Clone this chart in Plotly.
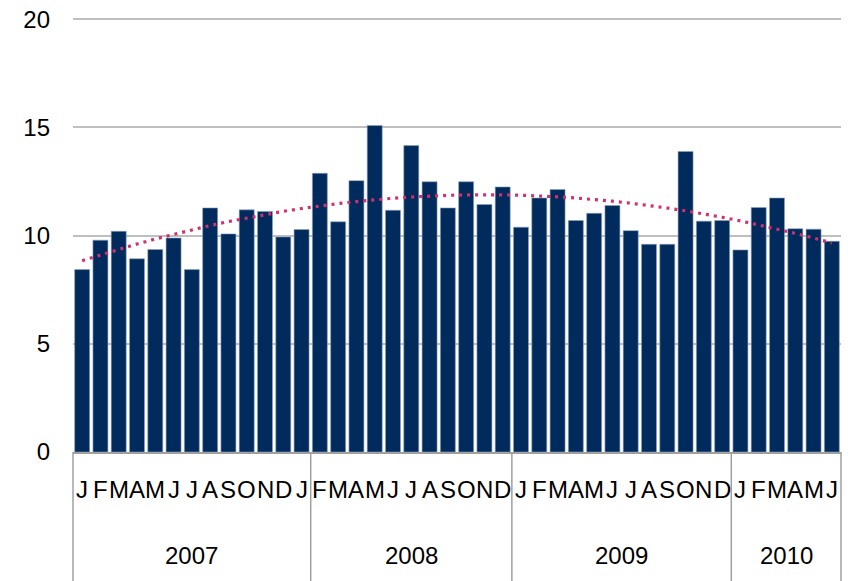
import numpy as np
import plotly.graph_objects as go

# ---- data ----
months = ["J", "F", "M", "A", "M", "J", "J", "A", "S", "O", "N", "D", "J",
          "F", "M", "A", "M", "J", "J", "A", "S", "O", "N", "D",
          "J", "F", "M", "A", "M", "J", "J", "A", "S", "O", "N", "D",
          "J", "F", "M", "A", "M", "J"]
values = [8.43, 9.79, 10.20, 8.93, 9.36, 9.89, 8.43, 11.28, 10.08, 11.19, 11.12, 9.94, 10.28,
          12.88, 10.64, 12.54, 15.09, 11.17, 14.16, 12.49, 11.28, 12.49, 11.44, 12.25,
          10.39, 11.74, 12.13, 10.70, 11.03, 11.39, 10.23, 9.60, 9.60, 13.89, 10.67, 10.70,
          9.34, 11.30, 11.74, 10.32, 10.30, 9.74]
years = ["2007", "2008", "2009", "2010"]
year_sizes = [13, 11, 12, 6]
y_ticks = [0, 5, 10, 15, 20]

n = len(values)
xs = list(range(n))

# polynomial (order 2) trendline, as in the original spreadsheet chart
coef = np.polyfit(xs, values, 2)
trend = np.polyval(coef, xs)

BAR = "#002B5C"
GRID = "#BFBFBF"
BOX = "#A0A0A0"
FONT = "Liberation Sans, Arial, sans-serif"

fig = go.Figure()
fig.add_trace(go.Bar(x=xs, y=values, marker=dict(color=BAR, line=dict(width=0.6, color="#8FA3BF")),
                     showlegend=False))
fig.add_trace(go.Scatter(x=xs, y=trend, mode="lines",
                         line=dict(color="#D2306E", width=3.2, dash="3px,5px"),
                         showlegend=False))

annotations = []
for i, m in enumerate(months):
    annotations.append(dict(x=i, y=0, xref="x", yref="paper", text=m, showarrow=False,
                            yanchor="middle", yshift=-37, font=dict(size=24, color="black", family=FONT)))

shapes = []
start = 0
bounds = [0]
for yr, sz in zip(years, year_sizes):
    center = start + (sz - 1) / 2
    annotations.append(dict(x=center, y=0, xref="x", yref="paper", text=yr, showarrow=False,
                            yanchor="middle", yshift=-103, font=dict(size=24, color="black", family=FONT)))
    start += sz
    bounds.append(start)

plot_h = 581 - 16 - 129
for b in bounds:
    shapes.append(dict(type="line", xref="paper", yref="paper", x0=b / n, x1=b / n,
                       y0=0, y1=-129 / plot_h, line=dict(color=BOX, width=1.5)))

fig.update_layout(
    width=848, height=581,
    margin=dict(l=73, r=7, t=16, b=129, autoexpand=False),
    paper_bgcolor="white", plot_bgcolor="white",
    bargap=0.18,
    font=dict(family=FONT, size=24, color="black"),
    xaxis=dict(range=[-0.5, n - 0.5], showticklabels=False, showgrid=False, zeroline=False,
               showline=True, linecolor=BOX, linewidth=1.5, ticks="", automargin=False),
    yaxis=dict(range=[0, 20.15], tickvals=y_ticks, showgrid=True, gridcolor=GRID, gridwidth=1.5,
               zeroline=False, showline=False, ticks="", ticklabelstandoff=22, automargin=False,
               tickfont=dict(size=24, family=FONT, color="black")),
    annotations=annotations,
    shapes=shapes,
)

fig.write_html("out.html", config={"displayModeBar": False},
               post_script="document.body.style.margin='0';document.body.style.overflow='hidden';")
